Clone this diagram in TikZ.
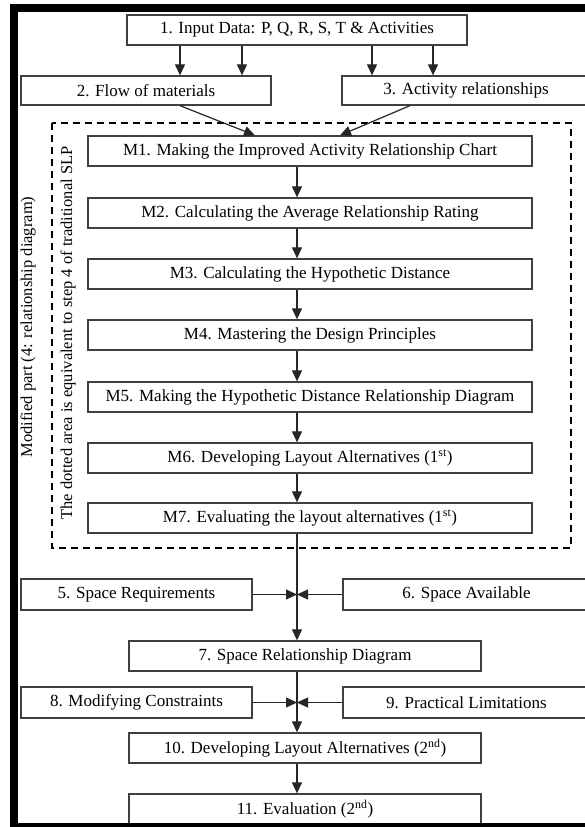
\documentclass[tikz,border=0pt]{standalone}
\usepackage{fontspec}
\setmainfont{Liberation Serif}
\usetikzlibrary{arrows.meta}
\begin{document}
\begin{tikzpicture}[x=1pt,y=-1pt,
  bx/.style={draw=black!75, line width=1.3pt, fill=white, inner sep=0pt, font=\fontsize{17}{20}\selectfont},
  mbox/.style={bx, minimum width=444pt, minimum height=30pt},
  cbox/.style={bx, minimum width=352pt, minimum height=30pt},
  lbox/.style={bx, minimum width=231pt, minimum height=31pt},
  rbox/.style={bx, minimum width=247pt, minimum height=31pt},
  arr/.style={draw=black!85, line width=1.2pt, -{Triangle[length=11pt,width=10pt]}},
  lbl/.style={font=\fontsize{16.5}{19}\selectfont, inner sep=0pt},
  dashbox/.style={draw=black, line width=1.5pt, dash pattern=on 7pt off 5pt}]
\useasboundingbox (0,0) rectangle (585,827);
\begin{scope}
\clip (0,0) rectangle (585,827);
\fill[white] (0,0) rectangle (585,827);
% dashed area
\draw[dashbox] (52,123) rectangle (571,548);
% boxes
\node[bx, minimum width=340pt, minimum height=30pt] (b1) at (297,30) {1. Input Data: P, Q, R, S, T \& Activities};
\node[bx, minimum width=250pt, minimum height=29pt] (b2) at (146,90.5) {2. Flow of materials};
\node[bx, minimum width=248pt, minimum height=29pt] (b3) at (466,90.5) {3. Activity relationships};
\node[mbox] (m1) at (310,151) {M1. Making the Improved Activity Relationship Chart};
\node[mbox] (m2) at (310,213) {M2. Calculating the Average Relationship Rating};
\node[mbox] (m3) at (310,274) {M3. Calculating the Hypothetic Distance};
\node[mbox] (m4) at (310,335) {M4. Mastering the Design Principles};
\node[mbox] (m5) at (310,397) {M5. Making the Hypothetic Distance Relationship Diagram};
\node[mbox] (m6) at (310,458) {M6. Developing Layout Alternatives (1\textsuperscript{st})};
\node[mbox] (m7) at (310,518) {M7. Evaluating the layout alternatives (1\textsuperscript{st})};
\node[lbox] (b5) at (136.5,594.5) {5. Space Requirements};
\node[rbox] (b6) at (466.5,594.5) {6. Space Available};
\node[cbox] (b7) at (305,656) {7. Space Relationship Diagram};
\node[lbox] (b8) at (136.5,702.5) {8. Modifying Constraints};
\node[rbox] (b9) at (466.5,702.5) {9. Practical Limitations};
\node[cbox] (b10) at (305,748) {10. Developing Layout Alternatives (2\textsuperscript{nd})};
\node[cbox] (b11) at (305,809) {11. Evaluation (2\textsuperscript{nd})};
% side labels
\node[lbl, rotate=90] (t1) at (28,327) {Modified part (4: relationship diagram)};
\node[lbl, rotate=90] (t2) at (68,333) {The dotted area is equivalent to step 4 of traditional SLP};
% helper coordinates
\coordinate (ax) at (297,0);
\coordinate (x180) at (180,0);
\coordinate (x242) at (242,0);
\coordinate (x372) at (372,0);
\coordinate (x433) at (433,0);
\coordinate (x410) at (410,0);
\coordinate (x255) at (255,0);
\coordinate (x340) at (340,0);
\coordinate (j1) at (297,594.5);
\coordinate (j2) at (297,702.5);
% connectors
\draw[arr] (b1.south -| x180) -- (b2.north -| x180);
\draw[arr] (b1.south -| x242) -- (b2.north -| x242);
\draw[arr] (b1.south -| x372) -- (b3.north -| x372);
\draw[arr] (b1.south -| x433) -- (b3.north -| x433);
\draw[arr] (b2.south -| x180) -- (m1.north -| x255);
\draw[arr] (b3.south -| x410) -- (m1.north -| x340);
\draw[arr] (m1.south -| ax) -- (m2.north -| ax);
\draw[arr] (m2.south -| ax) -- (m3.north -| ax);
\draw[arr] (m3.south -| ax) -- (m4.north -| ax);
\draw[arr] (m4.south -| ax) -- (m5.north -| ax);
\draw[arr] (m5.south -| ax) -- (m6.north -| ax);
\draw[arr] (m6.south -| ax) -- (m7.north -| ax);
\draw[arr] (m7.south -| ax) -- (b7.north -| ax);
\draw[arr] (b5.east) -- (j1);
\draw[arr] (b6.west) -- (j1);
\draw[arr] (b7.south -| ax) -- (b10.north -| ax);
\draw[arr] (b8.east) -- (j2);
\draw[arr] (b9.west) -- (j2);
\draw[arr] (b10.south -| ax) -- (b11.north -| ax);
% frame
\fill[black] (10,4) rectangle (18,827);
\fill[black] (10,4) rectangle (585,12);
\fill[black] (10,823) rectangle (585,827);
\end{scope}
\end{tikzpicture}
\end{document}
